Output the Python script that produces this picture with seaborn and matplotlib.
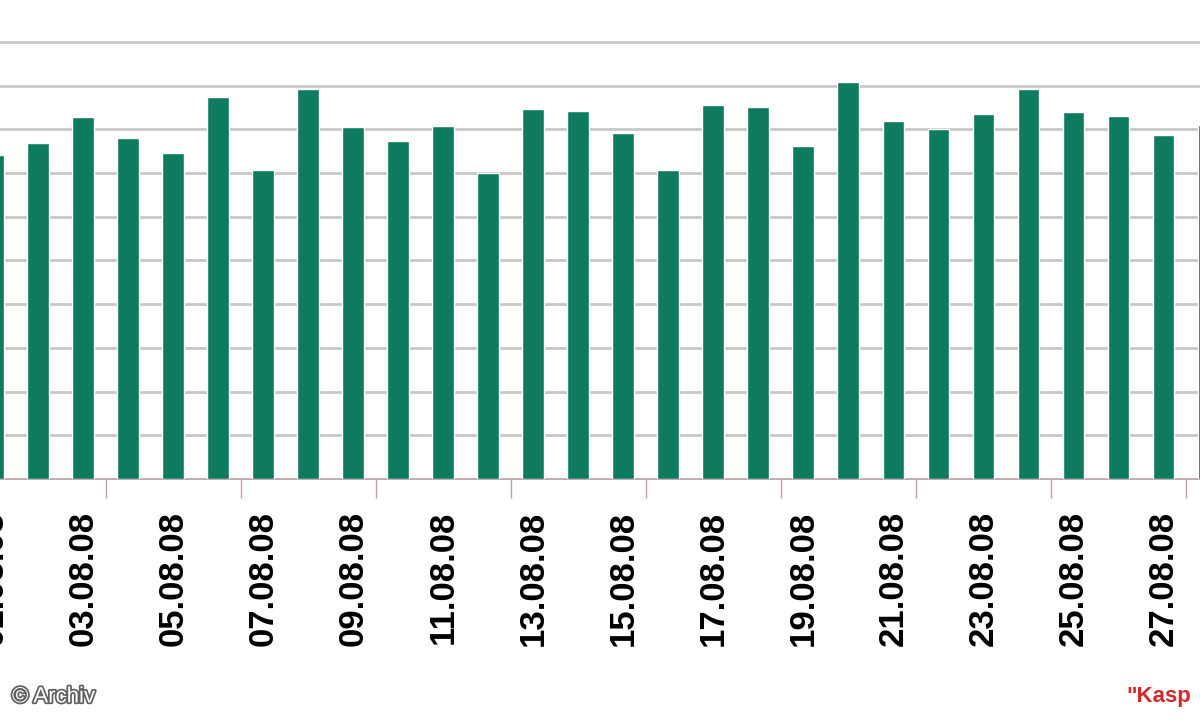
import pandas as pd
import matplotlib.pyplot as plt
import matplotlib.patheffects as pe
import seaborn as sns

# Daily values (in grid units)
days = ['01.08.08', '02.08.08', '03.08.08', '04.08.08', '05.08.08', '06.08.08', '07.08.08',
        '08.08.08', '09.08.08', '10.08.08', '11.08.08', '12.08.08', '13.08.08', '14.08.08',
        '15.08.08', '16.08.08', '17.08.08', '18.08.08', '19.08.08', '20.08.08', '21.08.08',
        '22.08.08', '23.08.08', '24.08.08', '25.08.08', '26.08.08', '27.08.08', '28.08.08']
values = [7.41, 7.69, 8.28, 7.80, 7.46, 8.74, 7.07, 8.92, 8.05, 7.73, 8.08, 7.00, 8.47, 8.42,
          7.92, 7.07, 8.56, 8.51, 7.62, 9.08, 8.19, 8.01, 8.35, 8.92, 8.40, 8.31, 7.87, 8.10]

df = pd.DataFrame({'Datum': days, 'Wert': values})

sns.set_style('white')
plt.rcParams['font.family'] = ['Liberation Sans', 'DejaVu Sans']

fig = plt.figure(figsize=(12, 7.2), dpi=100)
# axes reach a little past the left edge so the first (cut) label still draws
ax = fig.add_axes([-0.02, 0.3347, 1.02, 0.6653])

sns.barplot(x='Datum', y='Wert', data=df, order=days, color='#0e7b5f',
            saturation=1, width=0.47, ax=ax, zorder=3)

# Horizontal grid
ax.set_yticks(range(1, 11))
ax.yaxis.grid(True, color='#c8c8c8', linewidth=2, zorder=0)
ax.tick_params(axis='y', left=False, labelleft=False)
ax.set_ylabel('')
ax.set_xlabel('')

for side in ['top', 'right', 'left']:
    ax.spines[side].set_visible(False)
ax.spines['bottom'].set_color('#b0a0a0')
ax.spines['bottom'].set_linewidth(1.2)

# Date labels every other day
ax.set_xticks(range(0, len(days), 2))
ax.set_xticklabels(days[::2], rotation=90, fontsize=25, fontweight='bold', color='black')
ax.tick_params(axis='x', length=0, pad=23)

# Small ticks between the bars
ax.set_xticks([i + 0.5 for i in range(-1, len(days))], minor=True)
ax.tick_params(axis='x', which='minor', length=4, direction='inout', color='#d09090', width=1)

# Longer ticks every third gap
sec = ax.secondary_xaxis('bottom')
sec.set_xticks([i + 0.5 for i in range(-1, len(days), 3)])
sec.set_xticklabels([])
sec.tick_params(axis='x', length=14, color='#c0a0a0', width=1)
sec.spines['bottom'].set_visible(False)

# Crop the view like the original (first and last bar cut at the edges)
ax.set_xlim(-0.378, 26.82)
ax.set_ylim(0, 10.96)

fig.text(0.01, 0.032, '© Archiv', fontsize=16, color='white', va='center', ha='left',
         path_effects=[pe.withStroke(linewidth=2.5, foreground='#606060')])
fig.text(0.939, 0.032, '"Kasp', fontsize=16, color='#d4282a', fontweight='bold',
         va='center', ha='left')

fig.savefig('out.png', dpi=100)
